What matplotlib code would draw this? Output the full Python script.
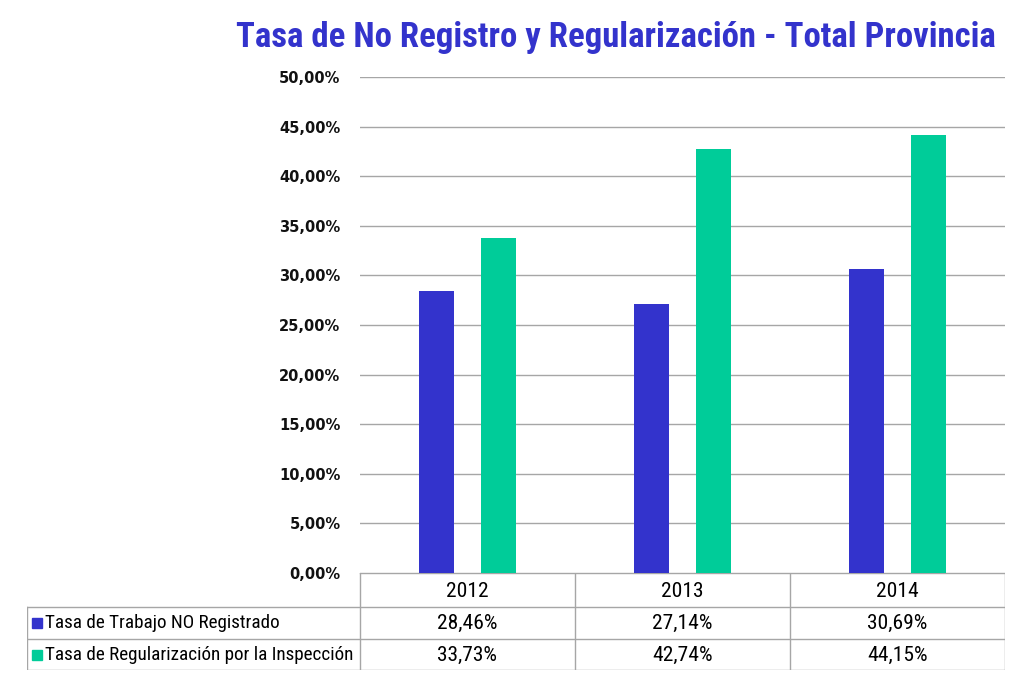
import matplotlib.pyplot as plt
import numpy as np
from matplotlib import font_manager

### DONNEES
anios = ["2012", "2013", "2014"]
no_registrado = [28.46, 27.14, 30.69]
regularizacion = [33.73, 42.74, 44.15]
series_nombres = ["Tasa de Trabajo NO Registrado", "Tasa de Regularización por la Inspección"]
ticks_y = [0, 5, 10, 15, 20, 25, 30, 35, 40, 45, 50]
titulo = "Tasa de No Registro y Regularización - Total Provincia"

azul = "#3333cc"
verde = "#00cc99"

installed = {f.name for f in font_manager.fontManager.ttflist}
narrow = "Roboto"
for cand in ["Roboto Condensed", "Liberation Sans Narrow", "Open Sans Condensed"]:
    if cand in installed:
        narrow = cand
        break

def pct(v):
    return f"{v:.2f}".replace(".", ",") + "%"

W, H = 1024, 677
fig = plt.figure(figsize=(W / 100, H / 100), dpi=100)
renderer = fig.canvas.get_renderer()

def px_box(x0, y0, x1, y1):
    # pixel coords (top-left origin) -> figure fraction
    return [x0 / W, 1 - y1 / H, (x1 - x0) / W, (y1 - y0) / H]

def ajuster(t, largeur):
    # ajuste la taille de police pour que le texte fasse 'largeur' pixels
    w = t.get_window_extent(renderer).width
    t.set_fontsize(t.get_fontsize() * largeur / w)
    return t.get_fontsize()

### GRAPHIQUE
ax = fig.add_axes(px_box(360, 77, 1005, 573))
x = np.arange(len(anios))
w = 0.16
ax.bar(x - 0.145, no_registrado, w, color=azul, zorder=3)
ax.bar(x + 0.145, regularizacion, w, color=verde, zorder=3)
ax.set_xlim(-0.5, len(anios) - 0.5)
ax.set_ylim(0, 50)
ax.set_yticks(ticks_y)
ax.set_yticklabels([pct(t) for t in ticks_y], fontsize=10.5, fontweight="bold",
                   family="DejaVu Sans", color="#111111")
ax.set_xticks([])
ax.grid(axis="y", color="#a6a6a6", linewidth=1, zorder=0)
for s in ax.spines.values():
    s.set_visible(False)
ax.tick_params(axis="y", length=0, pad=14)

### TABLEAU
tab = fig.add_axes(px_box(27, 573, 1005, 670))
tab.set_xlim(27, 1005)
tab.set_ylim(670, 573)
tab.axis("off")
cols = [360, 575, 790, 1005]
rows = [573, 607, 639, 670]
lc = "#a6a6a6"
tab.plot([360, 1005], [573, 573], color=lc, lw=1)
for r in rows[1:]:
    tab.plot([27, 1005], [r, r], color=lc, lw=1)
for c in cols:
    tab.plot([c, c], [573, 670], color=lc, lw=1)
tab.plot([27, 27], [607, 670], color=lc, lw=1)

t = tab.text(0, 0, pct(no_registrado[0]), family=narrow, fontsize=12)
fs = ajuster(t, 60)
t.remove()
t = tab.text(0, 0, series_nombres[1], family=narrow, fontsize=12)
fs_lab = ajuster(t, 308)
t.remove()

for i, a in enumerate(anios):
    xc = (cols[i] + cols[i + 1]) / 2
    tab.text(xc, 591, a, ha="center", va="center", fontsize=fs, family=narrow)
    tab.text(xc, 623, pct(no_registrado[i]), ha="center", va="center", fontsize=fs, family=narrow)
    tab.text(xc, 655, pct(regularizacion[i]), ha="center", va="center", fontsize=fs, family=narrow)

for j, (nom, col) in enumerate(zip(series_nombres, [azul, verde])):
    yc = (rows[j + 1] + rows[j + 2]) / 2
    tab.plot([37], [yc], marker="s", markersize=7, color=col, linestyle="none")
    tab.text(45, yc, nom, ha="left", va="center", fontsize=fs_lab, family=narrow)

### TITRE
t = fig.text(616 / W, 1 - 38 / H, titulo, ha="center", va="center", fontsize=20,
             fontweight="bold", color=azul, family=narrow)
ajuster(t, 758)

fig.savefig("out.png", dpi=100)
